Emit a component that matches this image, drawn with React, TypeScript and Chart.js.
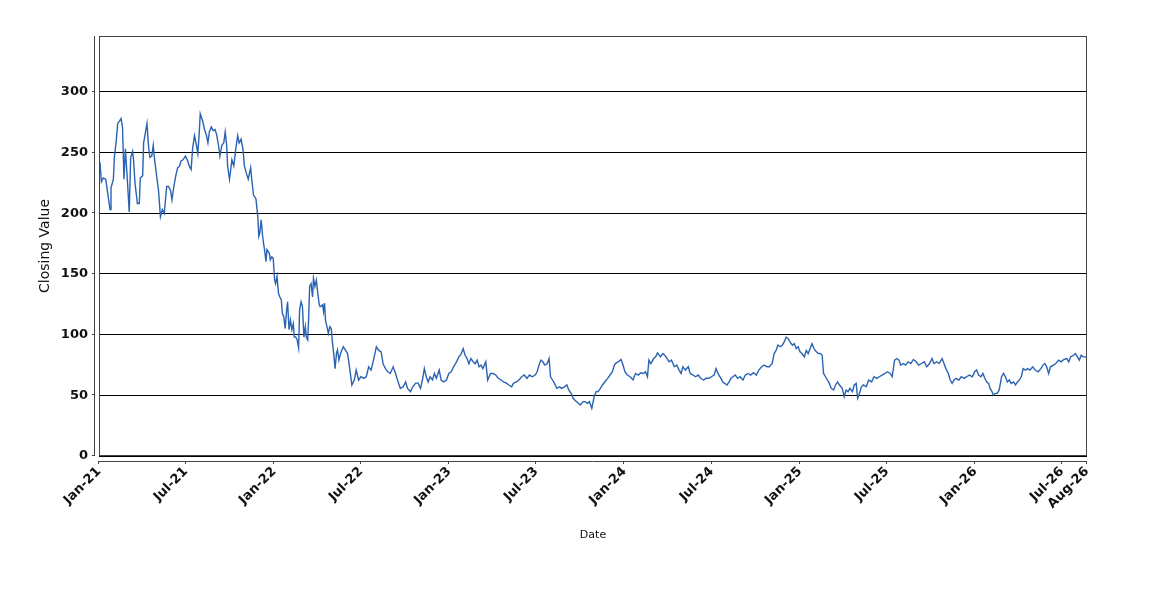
import { useEffect, useRef } from 'react';
import { Chart, registerables } from 'chart.js';

Chart.register(...registerables);

// Days since 2021-01-01 for each observation
const dayOffsets: number[] = [
  0, 2, 5, 9, 14, 18, 23, 25, 30, 32, 36, 39, 43, 46, 49, 52, 55, 59, 63, 66, 70, 72, 75, 80, 84, 86, 91, 93, 97, 100,
  103, 106, 110, 113, 116, 120, 124, 128, 132, 136, 141, 145, 149, 152, 156, 160, 164, 168, 171, 175, 180, 184, 188, 192, 195, 199,
  203, 206, 209, 211, 216, 220, 224, 227, 230, 234, 238, 242, 245, 249, 252, 256, 260, 263, 266, 268, 272, 277, 281, 285, 289, 292,
  296, 300, 303, 307, 311, 316, 318, 322, 327, 331, 333, 335, 338, 341, 343, 345, 348, 350, 355, 357, 360, 363, 366, 368, 371, 374,
  377, 380, 382, 385, 388, 391, 393, 396, 399, 402, 405, 407, 410, 413, 416, 418, 421, 424, 427, 430, 432, 435, 437, 439, 442, 445,
  447, 450, 453, 456, 459, 461, 466, 468, 470, 472, 475, 478, 481, 484, 486, 489, 492, 495, 497, 500, 503, 509, 514, 518, 522, 527,
  532, 536, 541, 546, 552, 557, 562, 567, 572, 578, 583, 588, 592, 597, 602, 607, 613, 618, 622, 628, 634, 639, 643, 649, 654, 660,
  665, 670, 674, 678, 682, 686, 690, 695, 699, 703, 709, 713, 718, 724, 729, 734, 739, 745, 750, 755, 759, 763, 767, 771, 775, 780,
  784, 788, 792, 796, 800, 806, 810, 816, 821, 827, 832, 838, 843, 849, 854, 860, 864, 870, 875, 881, 886, 892, 897, 903, 909, 913,
  917, 921, 925, 929, 934, 938, 941, 945, 949, 954, 960, 964, 970, 975, 979, 984, 988, 993, 999, 1003, 1009, 1013, 1018, 1022, 1027, 1032,
  1036, 1040, 1045, 1049, 1054, 1060, 1065, 1070, 1074, 1078, 1082, 1088, 1092, 1096, 1101, 1107, 1113, 1118, 1124, 1129, 1135, 1139, 1143, 1146,
  1150, 1156, 1160, 1164, 1170, 1175, 1179, 1184, 1188, 1193, 1199, 1204, 1209, 1213, 1217, 1222, 1228, 1232, 1238, 1243, 1249, 1254, 1260, 1265,
  1271, 1276, 1282, 1286, 1290, 1296, 1300, 1304, 1309, 1313, 1317, 1321, 1326, 1331, 1336, 1342, 1347, 1353, 1358, 1364, 1370, 1375, 1381, 1386,
  1392, 1397, 1403, 1407, 1411, 1415, 1420, 1424, 1428, 1432, 1436, 1440, 1445, 1449, 1453, 1457, 1461, 1465, 1470, 1474, 1478, 1482, 1486, 1490,
  1495, 1499, 1503, 1507, 1510, 1514, 1518, 1522, 1526, 1531, 1535, 1539, 1543, 1549, 1553, 1557, 1561, 1565, 1570, 1574, 1578, 1581, 1585, 1589,
  1593, 1599, 1604, 1610, 1615, 1621, 1626, 1632, 1638, 1643, 1649, 1653, 1656, 1658, 1663, 1667, 1671, 1676, 1681, 1686, 1692, 1697, 1703, 1708,
  1714, 1720, 1725, 1731, 1736, 1740, 1746, 1751, 1757, 1761, 1765, 1770, 1774, 1778, 1782, 1786, 1792, 1797, 1803, 1808, 1814, 1820, 1825, 1829,
  1833, 1838, 1842, 1846, 1850, 1854, 1857, 1861, 1864, 1868, 1872, 1876, 1881, 1885, 1889, 1893, 1897, 1901, 1906, 1910, 1914, 1918, 1922, 1926,
  1931, 1935, 1940, 1946, 1951, 1957, 1963, 1967, 1971, 1975, 1979, 1983, 1989, 1994, 2000, 2005, 2011, 2017, 2021, 2025, 2031, 2035, 2039, 2043,
  2047, 2051, 2055, 2059,
];

const closingValues: number[] = [
  240, 242, 226, 229, 228, 217, 203, 221, 228, 246, 260, 274, 276, 278, 271, 228, 253, 228, 201, 246, 251, 244, 225, 208, 208, 229, 231, 258, 267, 274,
  256, 246, 247, 256, 244, 231, 219, 197, 203, 200, 222, 222, 219, 211, 222, 231, 237.5, 239, 243, 244, 247, 244, 239, 236, 253, 264,
  256, 249, 267, 282, 276, 269, 264, 258, 267, 271, 268, 269, 265, 256, 247, 256, 258, 267, 256, 239, 228, 244, 239, 253, 264, 258,
  261, 253, 239, 233, 228, 237.5, 229, 215, 212, 197, 181, 183.5, 194.5, 181, 175, 170, 160, 170, 167, 161.5, 164, 163, 145, 142, 148, 134,
  131, 128.6, 117.6, 115, 105, 120, 127, 104, 112, 104, 109, 98, 98, 95.6, 89, 120, 127, 123, 98, 106.6, 98, 95.6, 115, 139.6, 142, 131,
  146.5, 139.6, 145, 134, 124.5, 123, 124.5, 119, 126, 112, 106.6, 101, 106.6, 105, 95.6, 85, 72, 85, 87.4, 79, 84, 90, 87, 84.4, 73.5, 58.5,
  62.6, 70.8, 62.6, 65.3, 64, 65.3, 73.5, 70.8, 79, 90, 87, 85.8, 76, 72, 69.4, 68, 73.5, 68, 62.6, 55.7, 57, 61, 55.7, 53, 57, 60,
  60, 55.7, 62.6, 72, 65.3, 61, 65.3, 62.6, 68, 64, 70.8, 62.6, 61, 62.6, 68, 69.4, 73.5, 77.6, 81.7, 84.4, 88.5, 83, 80.3, 76, 80.3, 77.6,
  76, 79, 73.5, 74.9, 72, 77.6, 62.6, 68, 68, 66.7, 64, 62.6, 61, 60, 58.5, 57, 60, 61, 62.6, 65.3, 66.7, 64, 66.7, 65.3, 66.7, 69.4,
  74.9, 79, 77.6, 74.9, 76, 80.3, 65.3, 62.6, 60, 55.7, 57, 55.7, 57, 58.5, 54.4, 51.6, 47.5, 45.6, 43.4, 42, 44.8, 44.8, 43.4, 44.8, 39.3, 49,
  53, 53, 55.7, 58.5, 61, 64, 66.7, 69.4, 74.9, 76.8, 77.6, 79.5, 74.9, 69.4, 66.7, 65.3, 62.6, 68, 66.7, 68.6, 68, 69.4, 65.3, 79,
  76.2, 80.3, 81.7, 85, 81.7, 84.4, 83, 80.3, 77.6, 79, 73.5, 74.9, 70.8, 68, 73.5, 70.8, 73.5, 68, 66.7, 65.3, 66.7, 64, 62.6, 64,
  64, 65.3, 66.7, 72, 68, 64, 61, 59.8, 58.5, 61, 64, 65.3, 66.7, 64, 65.3, 62.6, 66.7, 68, 66.7, 68.6, 66.7, 70.8, 73.5, 74.9,
  73.5, 73.5, 76.2, 84.4, 87, 91.3, 90, 91.3, 94, 98, 96.7, 94, 91.3, 92.6, 88.5, 90, 85.8, 84.4, 81.7, 87, 84.4, 88.5, 92.6, 88.5,
  85.8, 84.4, 84.4, 83, 68, 65.3, 62.6, 59.8, 55.7, 54.4, 58.5, 61, 58.5, 55.7, 48.9, 54.4, 53, 55.7, 53, 58.5, 59.8, 47.5, 51.6, 57,
  58.5, 57, 62.6, 61, 65.3, 64, 65.3, 66.7, 68, 69.4, 68, 65.3, 73.5, 79, 80.3, 79, 74.9, 76.2, 74.9, 77.6, 76.2, 79.5, 77.6, 74.9,
  76.2, 77.6, 73.5, 76.2, 80.3, 76.2, 77.6, 76.2, 80.3, 76.2, 72, 68, 62.6, 59.8, 62.6, 64, 62.6, 65.3, 64, 65.3, 66.7, 65.3, 69.4, 70.8,
  66.7, 65.3, 68, 64, 61, 59.8, 55.7, 53, 50.3, 51.6, 51.6, 54.4, 65.3, 68, 65.3, 61, 62.6, 59.8, 61, 58.5, 61, 62.6, 65.3, 72,
  70.8, 72, 70.8, 73.5, 70.8, 69.4, 72, 74.9, 76.2, 73.5, 68, 73.5, 74.9, 76.2, 79, 77.6, 79.5, 80.3, 77.6, 81.7, 83, 84.4, 81.7, 79,
  83, 81.7, 81.7, 81,
];

const xTickDays: number[] = [0, 181, 365, 546, 730, 911, 1095, 1277, 1461, 1642, 1826, 2007, 2059];
const xTickLabels: string[] = [
  'Jan-21', 'Jul-21', 'Jan-22', 'Jul-22', 'Jan-23', 'Jul-23', 'Jan-24', 'Jul-24', 'Jan-25', 'Jul-25', 'Jan-26', 'Jul-26', 'Aug-26',
];
const yTicks: number[] = [0, 50, 100, 150, 200, 250, 300];
const Y_MAX = 346;
const X_MAX = 2059;

const AXIS_COLOR = '#444';
const TEXT_COLOR = '#111';

const framePlugin = {
  id: 'frame',
  afterDraw(chart: any) {
    const { ctx, chartArea, scales } = chart;
    const { left, right, top, bottom } = chartArea;
    ctx.save();
    ctx.strokeStyle = AXIS_COLOR;
    ctx.lineWidth = 1;
    ctx.strokeRect(left + 0.5, top + 0.5, right - left - 1, bottom - top - 1);
    ctx.beginPath();
    const ax = left - 4.5;
    ctx.moveTo(ax, top);
    ctx.lineTo(ax, bottom);
    yTicks.forEach((v) => {
      const py = Math.round(scales.y.getPixelForValue(v)) - 0.5;
      ctx.moveTo(ax - 2.5, py);
      ctx.lineTo(ax, py);
    });
    const ay = bottom + 5.5;
    ctx.moveTo(left - 1, ay);
    ctx.lineTo(right, ay);
    xTickDays.forEach((d) => {
      const px = Math.round(scales.x.getPixelForValue(d)) - 0.5;
      ctx.moveTo(px, ay);
      ctx.lineTo(px, ay + 2.5);
    });
    ctx.stroke();
    ctx.restore();
  },
};

export default function App() {
  const canvasRef = useRef<HTMLCanvasElement | null>(null);

  useEffect(() => {
    document.body.style.margin = '0';
    const canvas = canvasRef.current;
    if (!canvas) return;
    const points = dayOffsets.map((d, i) => ({ x: d, y: closingValues[i] }));
    const chart = new Chart(canvas, {
      type: 'line',
      data: {
        datasets: [
          {
            label: 'Closing Value',
            data: points,
            borderColor: '#2a63b2',
            borderWidth: 1.4,
            pointRadius: 0,
            tension: 0,
            fill: false,
          },
        ],
      },
      options: {
        animation: false,
        responsive: false,
        devicePixelRatio: 1,
        layout: { padding: { top: 36, right: 63, left: 0, bottom: 0 } },
        plugins: { legend: { display: false }, tooltip: { enabled: false } },
        scales: {
          x: {
            type: 'linear',
            min: 0,
            max: X_MAX,
            afterFit: (scale: any) => {
              scale.height = 144;
            },
            afterBuildTicks: (scale: any) => {
              scale.ticks = xTickDays.map((v) => ({ value: v }));
            },
            grid: { display: false, drawTicks: false },
            border: { display: false },
            ticks: {
              autoSkip: false,
              minRotation: 45,
              maxRotation: 45,
              padding: 8,
              color: TEXT_COLOR,
              font: { family: 'DejaVu Sans', size: 13, weight: 'bold' },
              callback: (value: any) => {
                const idx = xTickDays.indexOf(Number(value));
                return idx >= 0 ? xTickLabels[idx] : '';
              },
            },
            title: {
              display: true,
              text: 'Date',
              color: TEXT_COLOR,
              font: { family: 'DejaVu Sans', size: 11 },
              padding: { top: 0, bottom: 58 },
            },
          },
          y: {
            type: 'linear',
            min: 0,
            max: Y_MAX,
            afterFit: (scale: any) => {
              scale.width = 99;
            },
            afterBuildTicks: (scale: any) => {
              scale.ticks = yTicks.map((v) => ({ value: v }));
            },
            grid: { color: '#000', lineWidth: 1, drawTicks: false },
            border: { display: false },
            ticks: {
              padding: 11,
              color: TEXT_COLOR,
              font: { family: 'DejaVu Sans', size: 13, weight: 'bold' },
            },
            title: {
              display: true,
              text: 'Closing Value',
              color: TEXT_COLOR,
              font: { family: 'DejaVu Sans', size: 14 },
              padding: { top: 37, bottom: 0 },
            },
          },
        },
      },
      plugins: [framePlugin],
    });
    return () => chart.destroy();
  }, []);

  return (
    <div style={{ width: 1150, height: 600 }}>
      <canvas ref={canvasRef} width={1150} height={600} style={{ display: 'block' }} />
    </div>
  );
}
